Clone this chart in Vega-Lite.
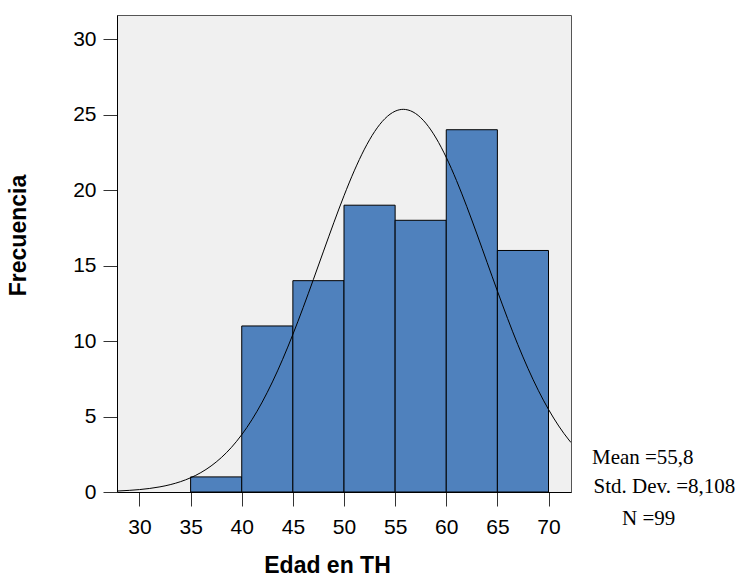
{
  "$schema": "https://vega.github.io/schema/vega-lite/v6.json",
  "width": 454,
  "height": 477,
  "autosize": {"type": "none"},
  "padding": {"left": 117, "top": 15, "right": 171, "bottom": 86},
  "background": "white",
  "config": {
    "view": {"fill": "#f0f0f0", "stroke": "#555555", "strokeWidth": 1},
    "axis": {
      "grid": false,
      "domainColor": "#000000",
      "tickColor": "#333333",
      "tickSize": 14,
      "labelFont": "Liberation Sans",
      "labelFontSize": 21,
      "labelColor": "#000000",
      "titleFont": "Liberation Sans",
      "titleFontSize": 23,
      "titleFontWeight": "bold",
      "titleColor": "#000000"
    }
  },
  "datasets": {
    "bins": [
      {"lo": 35, "hi": 40, "count": 1},
      {"lo": 40, "hi": 45, "count": 11},
      {"lo": 45, "hi": 50, "count": 14},
      {"lo": 50, "hi": 55, "count": 19},
      {"lo": 55, "hi": 60, "count": 18},
      {"lo": 60, "hi": 65, "count": 24},
      {"lo": 65, "hi": 70, "count": 16}
    ],
    "curve": [
      {"edad": 27.8, "f": 0.065}, {"edad": 28, "f": 0.071}, {"edad": 29, "f": 0.108},
      {"edad": 30, "f": 0.160}, {"edad": 31, "f": 0.236}, {"edad": 32, "f": 0.341},
      {"edad": 33, "f": 0.486}, {"edad": 34, "f": 0.683}, {"edad": 35, "f": 0.944},
      {"edad": 36, "f": 1.285}, {"edad": 37, "f": 1.724}, {"edad": 38, "f": 2.278},
      {"edad": 39, "f": 2.962}, {"edad": 40, "f": 3.797}, {"edad": 41, "f": 4.791},
      {"edad": 42, "f": 5.956}, {"edad": 43, "f": 7.292}, {"edad": 44, "f": 8.792},
      {"edad": 45, "f": 10.440}, {"edad": 46, "f": 12.211}, {"edad": 47, "f": 14.067},
      {"edad": 48, "f": 15.959}, {"edad": 49, "f": 17.833}, {"edad": 50, "f": 19.627},
      {"edad": 51, "f": 21.275}, {"edad": 52, "f": 22.713}, {"edad": 53, "f": 23.883},
      {"edad": 54, "f": 24.733}, {"edad": 55, "f": 25.227}, {"edad": 55.8, "f": 25.350},
      {"edad": 56, "f": 25.342}, {"edad": 57, "f": 25.074}, {"edad": 58, "f": 24.434},
      {"edad": 59, "f": 23.451}, {"edad": 60, "f": 22.167}, {"edad": 61, "f": 20.638},
      {"edad": 62, "f": 18.924}, {"edad": 63, "f": 17.090}, {"edad": 64, "f": 15.201},
      {"edad": 65, "f": 13.317}, {"edad": 66, "f": 11.490}, {"edad": 67, "f": 9.764},
      {"edad": 68, "f": 8.173}, {"edad": 69, "f": 6.737}, {"edad": 70, "f": 5.470},
      {"edad": 71, "f": 4.373}, {"edad": 72, "f": 3.444}, {"edad": 72.2, "f": 3.278}
    ],
    "stats": [
      {"label": "Mean =55,8", "edad": 74.25, "f": 1.835},
      {"label": "Std. Dev. =8,108", "edad": 74.41, "f": -0.066},
      {"label": "N =99", "edad": 77.19, "f": -2.206}
    ]
  },
  "layer": [
    {
      "data": {"name": "bins"},
      "mark": {"type": "rect", "fill": "#4f81bd", "stroke": "#000000", "strokeWidth": 1},
      "encoding": {
        "x": {
          "field": "lo", "type": "quantitative",
          "scale": {"domain": [27.8, 72.2], "nice": false, "zero": false},
          "axis": {"values": [30, 35, 40, 45, 50, 55, 60, 65, 70], "title": "Edad en TH", "titlePadding": 17, "labelPadding": 10, "titleX": 210}
        },
        "x2": {"field": "hi"},
        "y": {
          "field": "count", "type": "quantitative",
          "scale": {"domain": [0, 31.6], "nice": false},
          "axis": {"values": [0, 5, 10, 15, 20, 25, 30], "title": "Frecuencia", "titlePadding": 42, "labelPadding": 7, "titleY": 220}
        },
        "y2": {"datum": 0}
      }
    },
    {
      "data": {"name": "curve"},
      "mark": {"type": "line", "color": "#000000", "strokeWidth": 1, "interpolate": "monotone", "clip": true},
      "encoding": {
        "x": {"field": "edad", "type": "quantitative"},
        "y": {"field": "f", "type": "quantitative"}
      }
    },
    {
      "data": {"name": "stats"},
      "mark": {"type": "text", "align": "left", "baseline": "alphabetic", "font": "Liberation Serif", "fontSize": 21, "color": "#000000"},
      "encoding": {
        "x": {"field": "edad", "type": "quantitative"},
        "y": {"field": "f", "type": "quantitative"},
        "text": {"field": "label"}
      }
    }
  ]
}
